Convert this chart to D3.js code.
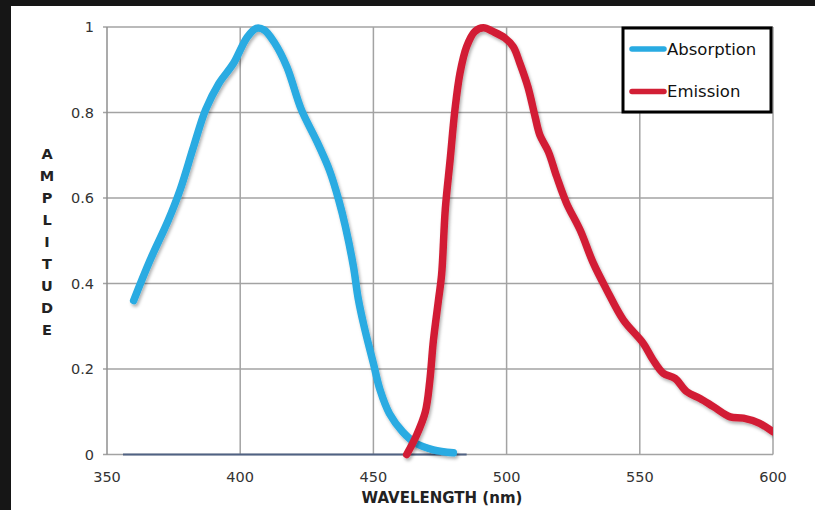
<!DOCTYPE html>
<html>
<head>
<meta charset="utf-8">
<script src="https://cdn.jsdelivr.net/npm/d3@7"></script>
<style>
  html, body { margin: 0; padding: 0; background: #161616; }
  svg { display: block; }
</style>
</head>
<body>
<div id="chart"></div>
<script>
// absorption curve (nm, amplitude)
const absWl  = [360, 366, 373, 377.5, 382.5, 387, 392, 397.5, 402.5, 406, 409, 413, 417.5, 423, 428.5, 433.5, 437, 439.5, 442.5, 444.3, 446.5, 450, 452.5, 456, 461, 466, 472.5, 480]
const absAmp = [0.36, 0.452, 0.548, 0.62, 0.72, 0.806, 0.868, 0.915, 0.975, 0.997, 0.993, 0.962, 0.907, 0.806, 0.736, 0.665, 0.595, 0.533, 0.44, 0.365, 0.3, 0.213, 0.151, 0.096, 0.053, 0.026, 0.011, 0.004]

// emission curve
const emWl  = [462.5, 466.2, 469.5, 471.2, 472.5, 474.4, 475.6, 477, 478.8, 480.6, 482.5, 485, 488, 491.3, 495, 499.4, 502.5, 505, 508, 510.7, 512.5, 515.7, 518.8, 522.5, 527.6, 532.6, 537.6, 543.8, 551.3, 555, 558.8, 563.2, 567.6, 572.6, 577.6, 583.9, 588.9, 595, 600]
const emAmp = [0, 0.045, 0.1, 0.174, 0.265, 0.36, 0.42, 0.575, 0.689, 0.806, 0.892, 0.954, 0.989, 0.998, 0.989, 0.974, 0.954, 0.915, 0.86, 0.79, 0.747, 0.708, 0.65, 0.588, 0.525, 0.447, 0.385, 0.315, 0.26, 0.221, 0.19, 0.178, 0.147, 0.131, 0.112, 0.088, 0.085, 0.073, 0.053]

// flat zero trace along the bottom
const baseWl = [356, 485]

const xTicks = [350, 400, 450, 500, 550, 600]
const yTicks = [0, 0.2, 0.4, 0.6, 0.8, 1]
const yLabels = ['0', '0.2', '0.4', '0.6', '0.8', '1']
const seriesNames = ['Absorption', 'Emission']
const seriesColors = ['#29abe2', '#d21f35']

const W = 815, H = 510
const margin = { top: 27, right: 42, bottom: 55.5, left: 107 }
const font = 'DejaVu Sans, Verdana, sans-serif'

const svg = d3.select('#chart').append('svg')
  .attr('width', W).attr('height', H)

const defs = svg.append('defs')
const shadow = defs.append('filter').attr('id', 'shadow')
  .attr('x', '-10%').attr('y', '-10%').attr('width', '120%').attr('height', '120%')
shadow.append('feDropShadow')
  .attr('dx', 1.5).attr('dy', 2.5).attr('stdDeviation', 1.6)
  .attr('flood-color', '#000').attr('flood-opacity', 0.3)

// white panel on dark frame
svg.append('rect').attr('x', 11).attr('y', 6).attr('width', W - 11).attr('height', H - 6).attr('fill', '#fff')

const x = d3.scaleLinear().domain([350, 600]).range([margin.left, W - margin.right])
const y = d3.scaleLinear().domain([0, 1]).range([H - margin.bottom, margin.top])

defs.append('clipPath').attr('id', 'plotClip').append('rect')
  .attr('x', x(350)).attr('y', 0).attr('width', x(600) - x(350)).attr('height', H)

// grid
const grid = svg.append('g')
grid.selectAll('line.h').data(yTicks).join('line')
  .attr('x1', x(350) - 4).attr('x2', x(600))
  .attr('y1', d => y(d)).attr('y2', d => y(d))
  .attr('stroke', '#a3a3a3').attr('stroke-width', 1.5)
grid.selectAll('line.v').data(xTicks).join('line')
  .attr('x1', d => x(d)).attr('x2', d => x(d))
  .attr('y1', y(1)).attr('y2', y(0))
  .attr('stroke', d => d === 350 ? '#8f8f8f' : '#a3a3a3').attr('stroke-width', 1.5)

// tick labels
svg.append('g').selectAll('text').data(yTicks).join('text')
  .attr('x', x(350) - 13).attr('y', d => y(d)).attr('dy', '0.36em')
  .attr('text-anchor', 'end').attr('font-family', font).attr('font-size', 14.5)
  .attr('fill', '#333').text((d, i) => yLabels[i])
svg.append('g').selectAll('text').data(xTicks).join('text')
  .attr('x', d => x(d)).attr('y', y(0) + 27)
  .attr('text-anchor', 'middle').attr('font-family', font).attr('font-size', 14.5)
  .attr('fill', '#333').text(d => d)

// axis titles
svg.append('text').attr('x', (x(350) + x(600)) / 2 + 2).attr('y', 503)
  .attr('text-anchor', 'middle').attr('font-family', font).attr('font-size', 15)
  .attr('font-weight', 'bold').attr('fill', '#222').text('WAVELENGTH (nm)')
const yTitle = 'AMPLITUDE'.split('')
svg.append('g').selectAll('text').data(yTitle).join('text')
  .attr('x', 47).attr('y', (d, i) => 159 + i * 22)
  .attr('text-anchor', 'middle').attr('font-family', font).attr('font-size', 14.5)
  .attr('font-weight', 'bold').attr('fill', '#222').text(d => d)

// series
const line = d3.line().x(d => x(d[0])).y(d => y(d[1])).curve(d3.curveCatmullRom.alpha(0.5))
const plot = svg.append('g').attr('clip-path', 'url(#plotClip)')

plot.append('path').datum(baseWl.map(w => [w, 0]))
  .attr('d', d3.line().x(d => x(d[0])).y(d => y(d[1])))
  .attr('stroke', '#506283').attr('stroke-width', 2).attr('fill', 'none')

const series = [d3.zip(absWl, absAmp), d3.zip(emWl, emAmp)]
series.forEach((pts, i) => {
  plot.append('path').datum(pts)
    .attr('d', line)
    .attr('fill', 'none')
    .attr('stroke', seriesColors[i])
    .attr('stroke-width', 7.5)
    .attr('stroke-linecap', 'round')
    .attr('stroke-linejoin', 'round')
    .attr('filter', 'url(#shadow)')
})

// legend
const lg = svg.append('g')
lg.append('rect').attr('x', 623).attr('y', 28).attr('width', 148).attr('height', 84)
  .attr('fill', '#fff').attr('stroke', '#000').attr('stroke-width', 3)
seriesNames.forEach((name, i) => {
  const ly = 49 + i * 42.5
  lg.append('line').attr('x1', 632).attr('x2', 664).attr('y1', ly).attr('y2', ly)
    .attr('stroke', seriesColors[i]).attr('stroke-width', 5.5).attr('stroke-linecap', 'round')
  lg.append('text').attr('x', 667).attr('y', ly).attr('dy', '0.36em')
    .attr('font-family', font).attr('font-size', 16.5).attr('fill', '#111').text(name)
})
</script>
</body>
</html>
